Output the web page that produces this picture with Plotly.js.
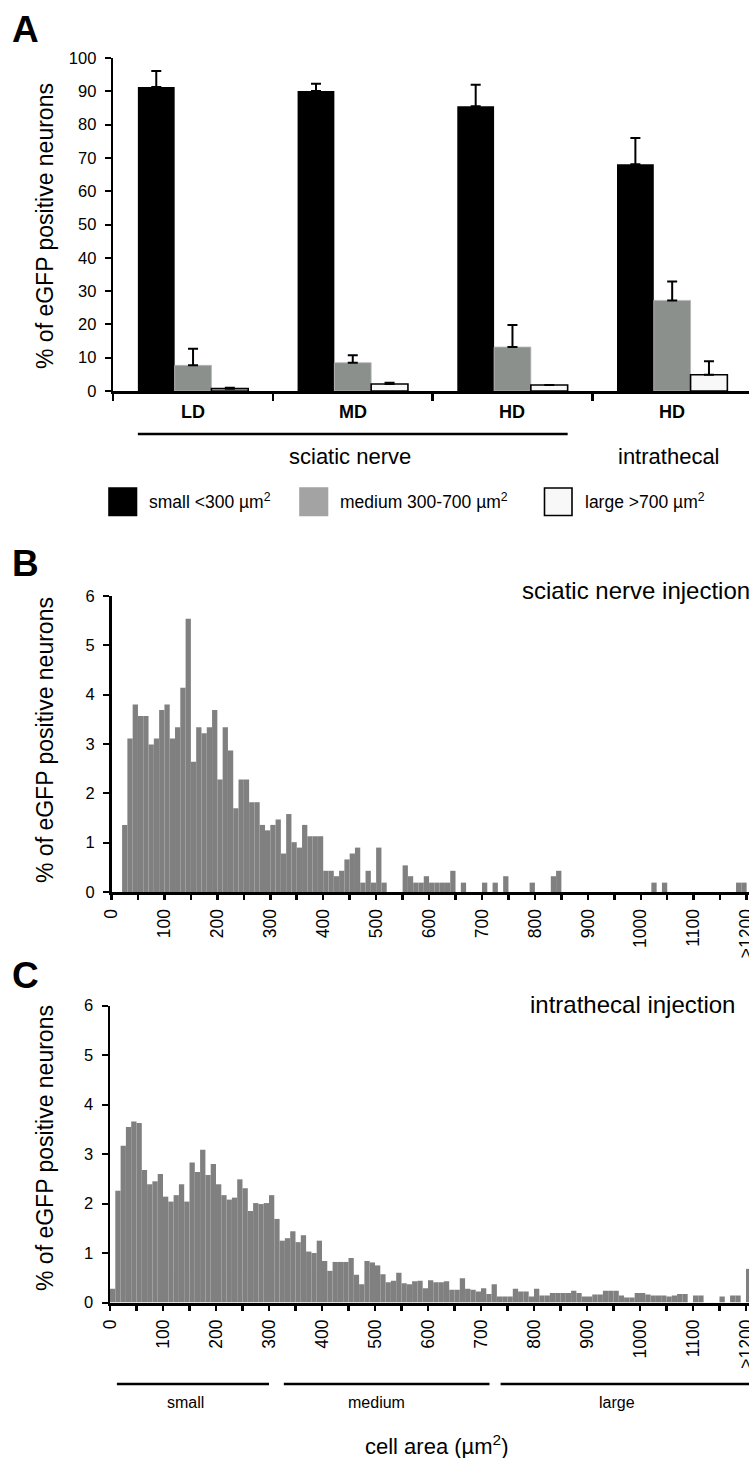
<!DOCTYPE html>
<html><head><meta charset="utf-8">
<script src="https://cdn.plot.ly/plotly-3.0.1.min.js"></script>
<style>html,body{margin:0;padding:0;background:#fff}#chart{width:749px;height:1458px}</style>
</head><body><div id="chart"></div>
<script>
// ---------- Panel A data ----------
const groups = ['LD', 'MD', 'HD', 'HD'];
const groupPos = [0, 1, 2, 3];
const smallPct = [91.3, 90.1, 85.5, 68.1];
const smallErr = [4.8, 2.2, 6.5, 7.9];
const mediumPct = [7.7, 8.5, 13.2, 27.2];
const mediumErr = [5.0, 2.2, 6.6, 5.7];
const largePct = [0.7, 2.1, 1.8, 4.9];
const largeErr = [0.3, 0.4, 0.0, 4.0];

// ---------- Panel B / C histogram data (10 µm² bins, last bin = >1200) ----------
const binStart = Array.from({length: 121}, (_, i) => i * 10);
const sciaticHist = [
  0, 0, 1.36, 3.11, 3.80, 3.57, 3.57, 2.99, 3.11, 3.69,
  3.80, 3.11, 3.34, 4.14, 5.54, 2.64, 3.34, 3.22, 3.34, 3.69,
  2.28, 3.34, 2.87, 1.70, 2.28, 2.28, 1.82, 1.82, 1.36, 1.25,
  1.36, 1.47, 0.78, 1.58, 1.01, 0.90, 1.36, 1.13, 1.13, 1.13,
  0.43, 0.43, 0.32, 0.43, 0.66, 0.78, 0.90, 0.19, 0.43, 0.19,
  0.90, 0.19, 0, 0, 0, 0.54, 0.32, 0.19, 0.19, 0.32,
  0.19, 0.19, 0.19, 0.19, 0.43, 0, 0.19, 0, 0, 0,
  0.19, 0, 0.19, 0, 0.32, 0, 0, 0, 0, 0.19,
  0, 0, 0, 0.32, 0.43, 0, 0, 0, 0, 0,
  0, 0, 0, 0, 0, 0, 0, 0, 0, 0,
  0, 0, 0.19, 0, 0.19, 0, 0, 0, 0, 0,
  0, 0, 0, 0, 0, 0, 0, 0, 0.19, 0.19,
  0
];
const intrathecalHist = [
  0.28, 2.26, 3.17, 3.55, 3.66, 3.63, 2.68, 2.39, 2.45, 2.60,
  2.14, 2.04, 2.17, 2.39, 2.04, 2.83, 2.64, 3.09, 2.58, 2.80,
  2.39, 2.17, 2.08, 2.12, 2.49, 2.31, 1.85, 2.01, 1.99, 2.01,
  2.17, 1.69, 1.25, 1.30, 1.44, 1.22, 1.36, 1.03, 1.00, 1.25,
  0.84, 0.64, 0.82, 0.82, 0.82, 0.90, 0.56, 0.37, 0.84, 0.81,
  0.75, 0.57, 0.41, 0.44, 0.60, 0.39, 0.37, 0.43, 0.44, 0.29,
  0.45, 0.41, 0.41, 0.43, 0.26, 0.26, 0.49, 0.28, 0.26, 0.22,
  0.29, 0.17, 0.37, 0.12, 0.12, 0.12, 0.28, 0.22, 0.22, 0.12,
  0.28, 0.14, 0.14, 0.19, 0.19, 0.19, 0.19, 0.24, 0.19, 0.12,
  0.12, 0.16, 0.16, 0.24, 0.24, 0.24, 0.14, 0.10, 0.10, 0.19,
  0.19, 0.16, 0.14, 0.14, 0.14, 0.12, 0.14, 0.17, 0.17, 0,
  0.14, 0.14, 0, 0, 0, 0.12, 0, 0.14, 0.14, 0,
  0.68
];
const histTickVals = [0, 100, 200, 300, 400, 500, 600, 700, 800, 900, 1000, 1100, 1200];
const histTickText = ['0', '100', '200', '300', '400', '500', '600', '700', '800', '900', '1000', '1100', '>1200'];
const sizeClasses = ['small', 'medium', 'large'];
const sizeRanges = [[13, 300], [328, 716], [737, 1210]];

// ---------- layout helpers (pixel -> paper) ----------
const W = 749, H = 1458;
const PX = v => v / W;
const PY = v => 1 - v / H;
const FONT = 'Liberation Sans, Arial, Helvetica, sans-serif';
const histColor = '#808080';

const errStyle = arr => ({type: 'data', array: arr, arrayminus: arr.map(() => 0), symmetric: false,
  visible: true, color: '#000', thickness: 2, width: 5});

const traces = [
  {type: 'bar', x: groupPos, y: smallPct, name: 'small', xaxis: 'x', yaxis: 'y',
   marker: {color: '#000000', line: {width: 0}}, error_y: errStyle(smallErr), showlegend: false},
  {type: 'bar', x: groupPos, y: mediumPct, name: 'medium', xaxis: 'x', yaxis: 'y',
   marker: {color: '#8b908d', line: {width: 0.8, color: '#b5b8b6'}}, error_y: errStyle(mediumErr), showlegend: false},
  {type: 'bar', x: groupPos, y: largePct, name: 'large', xaxis: 'x', yaxis: 'y',
   marker: {color: '#f8f8f8', line: {width: 1.6, color: '#000'}}, error_y: errStyle(largeErr), showlegend: false},
  {type: 'bar', x: binStart, y: sciaticHist, xaxis: 'x2', yaxis: 'y2', offset: 0, width: 10,
   marker: {color: histColor, line: {width: 0}}, showlegend: false},
  {type: 'bar', x: binStart, y: intrathecalHist, xaxis: 'x3', yaxis: 'y3', offset: 0, width: 10,
   marker: {color: histColor, line: {width: 0}}, showlegend: false}
];

const tickFont = {family: FONT, size: 16.5, color: '#000'};
const xTickFont = {family: FONT, size: 17.5, color: '#000'};
const yBase = {showgrid: false, zeroline: false, showline: true, linecolor: '#000', linewidth: 2.5,
  ticks: 'outside', ticklen: 6, tickwidth: 2, tickcolor: '#000', tickfont: tickFont, ticklabelstandoff: 5,
  fixedrange: true};
const histX = (dom, rng) => ({domain: dom, range: rng, showgrid: false, zeroline: false, showline: true,
  linecolor: '#000', linewidth: 3, ticks: 'outside', ticklen: 5, tickwidth: 2.5, tickcolor: '#000',
  tickvals: histTickVals, ticktext: histTickText, tickangle: -90, tickfont: xTickFont,
  ticklabeloverflow: 'allow', ticklabelstandoff: 2,
  minor: {dtick: 50, tick0: 0, ticks: 'outside', ticklen: 5, tickwidth: 2.5, tickcolor: '#000'}});

const layout = {
  width: W, height: H, margin: {l: 0, r: 0, t: 0, b: 0}, paper_bgcolor: '#fff', plot_bgcolor: 'rgba(0,0,0,0)',
  font: {family: FONT, color: '#000'}, barmode: 'group', bargap: 0.309, bargroupgap: 0, showlegend: false,
  xaxis: {domain: [PX(113.2), 1], range: [-0.5, 3.481], showgrid: false, zeroline: false, showline: true,
    linecolor: '#000', linewidth: 3, tickvals: [-0.5, 0.5, 1.5, 2.5], ticks: 'outside', ticklen: 7, tickwidth: 2.5,
    tickcolor: '#000', showticklabels: false, anchor: 'y'},
  yaxis: Object.assign({}, yBase, {domain: [PY(391), PY(58)], range: [0, 100], dtick: 10, tick0: 0, anchor: 'x'}),
  xaxis2: Object.assign(histX([PX(111.5), 1], [0, 1204.5]), {anchor: 'y2'}),
  yaxis2: Object.assign({}, yBase, {domain: [PY(892), PY(596)], range: [0, 6], dtick: 1, tick0: 0, anchor: 'x2'}),
  xaxis3: Object.assign(histX([PX(110), 1], [0, 1205.7]), {anchor: 'y3'}),
  yaxis3: Object.assign({}, yBase, {domain: [PY(1302.5), PY(1005.7)], range: [0, 6], dtick: 1, tick0: 0, anchor: 'x3'}),
  shapes: [],
  annotations: []
};

const ann = (text, x, y, size, opts) => Object.assign({text: text, x: PX(x), y: PY(y), xref: 'paper', yref: 'paper',
  showarrow: false, xanchor: 'center', yanchor: 'middle', font: {family: FONT, size: size, color: '#000'}}, opts || {});

// panel letters
layout.annotations.push(ann('<b>A</b>', 10, 29, 37, {xanchor: 'left'}));
layout.annotations.push(ann('<b>B</b>', 10, 563, 37, {xanchor: 'left'}));
layout.annotations.push(ann('<b>C</b>', 10, 975, 37, {xanchor: 'left'}));
// y-axis titles
const yTitle = '% of eGFP positive neurons';
layout.annotations.push(ann(yTitle, 45, 226, 23, {textangle: -90}));
layout.annotations.push(ann(yTitle, 45, 740, 23, {textangle: -90}));
layout.annotations.push(ann(yTitle, 45, 1148, 23, {textangle: -90}));
// group labels (panel A), positioned on the bar scale
groups.forEach((g, i) => layout.annotations.push({text: '<b>' + g + '</b>', x: groupPos[i], xref: 'x', y: PY(412), yref: 'paper',
  showarrow: false, xanchor: 'center', yanchor: 'middle', font: {family: FONT, size: 18, color: '#000'}}));
layout.shapes.push({type: 'line', xref: 'x', yref: 'paper', x0: -0.3456, x1: 2.3456, y0: PY(434), y1: PY(434),
  line: {color: '#000', width: 2.5}});
layout.annotations.push(ann('sciatic nerve', 350, 456, 22));
layout.annotations.push(ann('intrathecal', 669, 456, 22));
// legend (panel A)
const legendItems = [
  {x: 109, fill: '#000000', line: '#000000', text: 'small <300 µm<sup>2</sup>'},
  {x: 300, fill: '#a3a3a3', line: '#a3a3a3', text: 'medium 300-700 µm<sup>2</sup>'},
  {x: 544.5, fill: '#f8f8f8', line: '#000000', text: 'large >700 µm<sup>2</sup>'}
];
legendItems.forEach(it => {
  layout.shapes.push({type: 'rect', xref: 'paper', yref: 'paper', x0: PX(it.x), x1: PX(it.x + 27.5), y0: PY(515.5), y1: PY(488),
    fillcolor: it.fill, line: {color: it.line, width: 1.6}});
  layout.annotations.push(ann(it.text, it.x + 38, 501, 17.5, {xanchor: 'left'}));
});
// panel titles B, C
layout.annotations.push(ann('sciatic nerve injection', 752, 590, 24, {xanchor: 'right'}));
layout.annotations.push(ann('intrathecal injection', 737, 1004, 24, {xanchor: 'right'}));
// size class brackets (panel C)
const classLabelX = [143, 502, 957];
sizeClasses.forEach((c, i) => {
  layout.shapes.push({type: 'line', xref: 'x3', yref: 'paper', x0: sizeRanges[i][0], x1: sizeRanges[i][1],
    y0: PY(1384), y1: PY(1384), line: {color: '#000', width: 2.5}});
  layout.annotations.push({text: c, x: classLabelX[i], xref: 'x3', y: PY(1402), yref: 'paper', showarrow: false,
    xanchor: 'center', yanchor: 'middle', font: {family: FONT, size: 16, color: '#000'}});
});
layout.annotations.push(ann('cell area (µm<sup>2</sup>)', 437, 1445, 22));

Plotly.newPlot('chart', traces, layout, {staticPlot: true, displayModeBar: false});
</script>
</body></html>
